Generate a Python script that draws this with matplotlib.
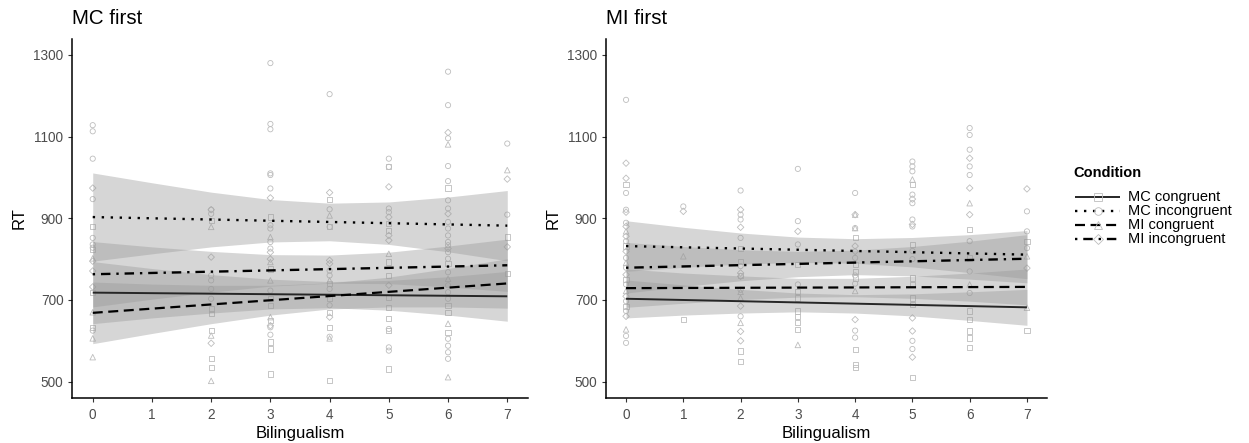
import matplotlib
matplotlib.use("Agg")
import matplotlib.pyplot as plt
from matplotlib.lines import Line2D
import numpy as np

plt.rcParams['font.family'] = ['Liberation Sans', 'DejaVu Sans']

# ---------------- data ----------------
conditions = ["MC congruent", "MC incongruent", "MI congruent", "MI incongruent"]
panel_titles = ["MC first", "MI first"]
x_ticks = [0, 1, 2, 3, 4, 5, 6, 7]
y_ticks = [500, 700, 900, 1100, 1300]
band_x = [0, 1, 2, 3, 4, 5, 6, 7]

# --- Panel 1: MC first, raw points (x, RT) ---
mcf_mcc_x = [0]*4 + [2]*6 + [3]*8 + [4]*7 + [5]*10 + [6]*5 + [7]*2
mcf_mcc_y = [879, 823, 719, 633,
             895, 678, 666, 625, 556, 535,
             903, 776, 703, 687, 650, 597, 580, 519,
             947, 879, 703, 670, 633, 502, 740,
             1026, 887, 871, 793, 760, 707, 682, 654, 625, 531,
             974, 789, 687, 670, 621,
             854, 764]
mcf_mci_x = [0]*8 + [2]*6 + [3]*13 + [4]*8 + [5]*7 + [6]*22 + [7]*2
mcf_mci_y = [1128, 1113, 1046, 947, 852, 836, 828, 625,
             921, 911, 760, 748, 727, 703,
             1280, 1131, 1118, 1010, 1006, 973, 883, 875, 842, 826, 723, 633, 615,
             1204, 922, 879, 772, 760, 727, 687, 610,
             1046, 1026, 924, 915, 629, 584, 576,
             1259, 1177, 1096, 1028, 991, 944, 924, 891, 875, 858, 842, 834, 817,
             801, 768, 736, 719, 703, 605, 588, 572, 556,
             1083, 909]
mcf_mic_x = [0]*4 + [2]*3 + [3]*4 + [4]*3 + [5]*1 + [6]*4 + [7]*1
mcf_mic_y = [802, 670, 606, 560,
             879, 613, 502,
             854, 793, 748, 658,
             907, 748, 606,
             813,
             1081, 752, 642, 511,
             1018]
mcf_mii_x = [0]*4 + [2]*3 + [3]*4 + [4]*4 + [5]*5 + [6]*3 + [7]*2
mcf_mii_y = [974, 795, 771, 732,
             921, 805, 594,
             950, 817, 800, 637,
             963, 797, 789, 658,
             977, 903, 858, 846, 736,
             1110, 911, 826,
             996, 830]

# --- Panel 2: MI first, raw points ---
mif_mcc_x = [0]*4 + [1]*1 + [2]*5 + [3]*7 + [4]*7 + [5]*7 + [6]*7 + [7]*2
mif_mcc_y = [982, 832, 750, 685,
             652,
             827, 795, 760, 575, 550,
             787, 721, 705, 673, 660, 644, 628,
             852, 787, 770, 754, 579, 542, 534,
             982, 836, 754, 738, 705, 689, 510,
             872, 803, 673, 652, 624, 607, 583,
             844, 626]
mif_mci_x = [0]*12 + [1]*1 + [2]*7 + [3]*4 + [4]*7 + [5]*11 + [6]*8 + [7]*3
mif_mci_y = [1190, 962, 921, 889, 844, 803, 779, 738, 697, 673, 612, 595,
             929,
             968, 909, 897, 852, 783, 725, 660,
             1021, 893, 836, 738,
             962, 876, 803, 760, 740, 625, 608,
             1039, 1027, 1015, 958, 937, 897, 880, 820, 800, 600, 580,
             1121, 1104, 1068, 1027, 1006, 844, 770, 717,
             917, 868, 827]
mif_mic_x = [0]*4 + [1]*1 + [2]*3 + [3]*1 + [4]*3 + [5]*1 + [6]*2 + [7]*2
mif_mic_y = [868, 791, 722, 628,
             807,
             720, 705, 644,
             590,
             909, 876, 722,
             995,
             937, 738,
             807, 681]
mif_mii_x = [0]*9 + [1]*1 + [2]*7 + [3]*1 + [4]*4 + [5]*5 + [6]*3 + [7]*2
mif_mii_y = [1035, 998, 915, 880, 856, 819, 762, 709, 660,
             917,
             921, 878, 766, 758, 685, 623, 600,
             868,
             909, 832, 819, 652,
             947, 885, 656, 624, 560,
             1047, 974, 909,
             972, 778]

# fitted lines: RT at Bilingualism = 0 and = 7
mcf_fit = {"MC congruent": (718, 709), "MC incongruent": (903, 882),
           "MI congruent": (668.5, 740.5), "MI incongruent": (763, 785)}
mif_fit = {"MC congruent": (703, 682), "MC incongruent": (832, 811),
           "MI congruent": (729, 732), "MI incongruent": (779, 801)}

# confidence bands (lower, upper) at band_x
mcf_band = {
    "MC congruent": ([642, 656, 668, 678, 681, 675, 663, 648],
                     [794, 777, 762, 751, 745, 748, 757, 770]),
    "MC incongruent": ([795, 813, 830, 842, 845, 836, 818, 796],
                       [1011, 987, 964, 946, 937, 940, 952, 968]),
    "MI congruent": ([593, 618, 642, 663, 678, 683, 683, 680],
                     [744, 739, 736, 736, 742, 756, 777, 801]),
    "MI incongruent": ([683, 702, 719, 734, 741, 740, 732, 721],
                       [843, 830, 819, 811, 810, 817, 832, 849]),
}
mif_band = {
    "MC congruent": ([656, 663, 668, 671, 668, 661, 650, 638],
                     [749, 737, 726, 717, 713, 715, 720, 726]),
    "MC incongruent": ([770, 780, 788, 792, 790, 781, 767, 752],
                       [894, 878, 864, 854, 850, 853, 860, 870]),
    "MI congruent": ([682, 692, 701, 707, 708, 704, 697, 688],
                     [776, 766, 759, 753, 753, 758, 766, 776]),
    "MI incongruent": ([717, 733, 747, 757, 762, 759, 751, 742],
                       [841, 831, 823, 819, 822, 831, 844, 860]),
}

# ---------------- styles ----------------
markers = {"MC congruent": "s", "MC incongruent": "o",
           "MI congruent": "^", "MI incongruent": "D"}
msize = {"MC congruent": 14, "MC incongruent": 14,
         "MI congruent": 16, "MI incongruent": 11}
lstyles = {"MC congruent": "-",
           "MC incongruent": (0, (1.0, 2.8)),
           "MI congruent": (0, (4.5, 2.5)),
           "MI incongruent": (0, (1.0, 2.5, 4.0, 2.5))}
lcolors = {"MC congruent": "#262626", "MC incongruent": "black",
           "MI congruent": "black", "MI incongruent": "black"}
lwidths = {"MC congruent": 1.4, "MC incongruent": 1.7,
           "MI congruent": 1.6, "MI incongruent": 1.7}
pt_color = "#BDBDBD"

W, H = 1249, 443
fig = plt.figure(figsize=(W / 100, H / 100), dpi=100)

ax1 = fig.add_axes([72 / W, 1 - 398 / H, (528 - 72) / W, (398 - 39) / H])
ax2 = fig.add_axes([606 / W, 1 - 398 / H, (1047 - 606) / W, (398 - 39) / H])

panels = [
    (ax1, {"MC congruent": (mcf_mcc_x, mcf_mcc_y), "MC incongruent": (mcf_mci_x, mcf_mci_y),
           "MI congruent": (mcf_mic_x, mcf_mic_y), "MI incongruent": (mcf_mii_x, mcf_mii_y)},
     mcf_fit, mcf_band, panel_titles[0]),
    (ax2, {"MC congruent": (mif_mcc_x, mif_mcc_y), "MC incongruent": (mif_mci_x, mif_mci_y),
           "MI congruent": (mif_mic_x, mif_mic_y), "MI incongruent": (mif_mii_x, mif_mii_y)},
     mif_fit, mif_band, panel_titles[1]),
]

for ax, pts, fit, band, title in panels:
    for c in conditions:
        xs, ys = pts[c]
        ax.scatter(xs, ys, marker=markers[c], s=msize[c], facecolors="none",
                   edgecolors=pt_color, linewidths=0.6, zorder=1)
    for c in conditions:
        lo, hi = band[c]
        ax.fill_between(band_x, lo, hi, color="#999999", alpha=0.4, lw=0, zorder=2)
    for c in conditions:
        y0, y7 = fit[c]
        ax.plot([0, 7], [y0, y7], color=lcolors[c], linestyle=lstyles[c],
                lw=lwidths[c], zorder=3, solid_capstyle="butt", dash_capstyle="butt")
    ax.set_xlim(-0.35, 7.35)
    ax.set_ylim(460, 1339)
    ax.set_xticks(x_ticks)
    ax.set_yticks(y_ticks)
    for s in ["top", "right"]:
        ax.spines[s].set_visible(False)
    for s in ["left", "bottom"]:
        ax.spines[s].set_linewidth(1.1)
        ax.spines[s].set_color("black")
    ax.tick_params(axis="both", length=3, width=0.8, color="#333333",
                   labelsize=9.8, labelcolor="#4D4D4D")
    ax.tick_params(axis="y", pad=3.2)
    ax.tick_params(axis="x", pad=4.0)
    ax.set_xlabel("Bilingualism", fontsize=12, labelpad=3)
    ax.set_ylabel("RT", fontsize=12, labelpad=5.0)
    ax.set_title(title, loc="left", fontsize=14.8, pad=11)

# ---------------- legend (manual, figure pixel layout) ----------------
def fx(px):
    return px / W


def fy(py):
    return 1 - py / H


fig.text(fx(1073), fy(173), "Condition", fontsize=10.5, fontweight="bold",
         ha="left", va="center")
row_y = [197, 211, 225, 239]
for c, ry in zip(conditions, row_y):
    fig.add_artist(Line2D([fx(1075), fx(1120)], [fy(ry), fy(ry)],
                          transform=fig.transFigure, color=lcolors[c],
                          linestyle=lstyles[c], lw=lwidths[c],
                          solid_capstyle="butt", dash_capstyle="butt"))
    fig.add_artist(Line2D([fx(1097.5)], [fy(ry)], transform=fig.transFigure,
                          linestyle="none", marker=markers[c],
                          markersize=5.5 if c != "MI incongruent" else 4.8,
                          markerfacecolor="none", markeredgecolor=pt_color,
                          markeredgewidth=0.6))
    fig.text(fx(1128), fy(ry), c, fontsize=10.5, ha="left", va="center")

fig.savefig("out.png", dpi=100)
